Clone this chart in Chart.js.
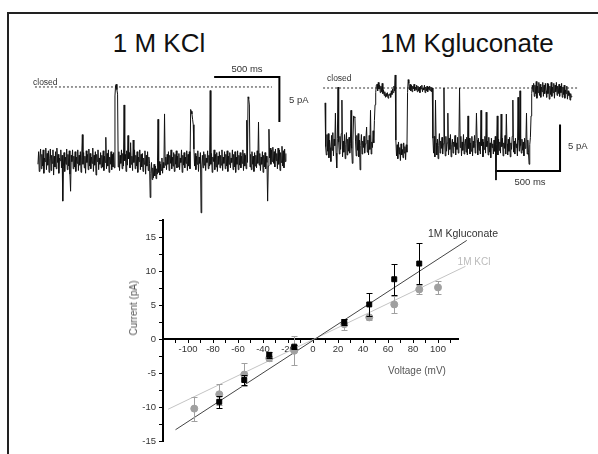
<!DOCTYPE html>
<html>
<head>
<meta charset="utf-8">
<script src="https://cdn.jsdelivr.net/npm/chart.js@4.4.0/dist/chart.umd.min.js"></script>
<style>
  body { margin: 0; background: #fff; width: 598px; height: 454px; overflow: hidden; position: relative;
         font-family: "Liberation Sans", Arial, sans-serif; }
  canvas { position: absolute; }
  .txt { position: absolute; white-space: nowrap; line-height: 1; transform: translate(-50%, -50%); }
  .left { transform: translate(0, -50%); }
  #frame { position: absolute; left: 7px; top: 12px; width: 620px; height: 470px;
           border-left: 2px solid #222; border-top: 2px solid #222; }
</style>
</head>
<body>
<div id="frame"></div>
<canvas id="kclTrace" width="270" height="160" style="left:30px;top:60px"></canvas>
<canvas id="gluTrace" width="270" height="160" style="left:315px;top:60px"></canvas>
<canvas id="ivChart" width="348" height="245" style="left:122px;top:205px"></canvas>

<div class="txt" style="left:159px;top:43px;font-size:26px;color:#111">1 M KCl</div>
<div class="txt" style="left:467px;top:43px;font-size:26px;color:#111">1M Kgluconate</div>
<div class="txt left" style="left:33px;top:82px;font-size:8.5px;color:#333">closed</div>
<div class="txt left" style="left:327px;top:78px;font-size:8.5px;color:#333">closed</div>
<div class="txt" style="left:247px;top:69px;font-size:9.5px;color:#333">500 ms</div>
<div class="txt left" style="left:289px;top:100px;font-size:9.5px;color:#333">5 pA</div>
<div class="txt" style="left:530px;top:182px;font-size:9.5px;color:#333">500 ms</div>
<div class="txt left" style="left:568px;top:146px;font-size:9.5px;color:#333">5 pA</div>
<div class="txt" style="left:417px;top:371px;font-size:10px;color:#555">Voltage (mV)</div>
<div class="txt" style="left:134px;top:308px;font-size:10px;color:#555;transform:translate(-50%,-50%) rotate(-90deg)">Current (pA)</div>
<div class="txt" style="left:463px;top:233px;font-size:10.5px;color:#333">1M Kgluconate</div>
<div class="txt" style="left:474px;top:262px;font-size:10px;color:#bbb">1M KCl</div>

<script>
// single channel recordings, one sample every 5 ms, current in pA (closed = 0)
const sampleMs = 5;
const kclTrace = [
  -8.6,-7.2,-9.4,-7.8,-6.9,-9.1,-7.5,-8.8,-7.0,-9.6,-7.9,-8.3,-6.8,-9.2,-7.4,-8.7,-7.1,-9.5,-8.0,-6.9,
  -9.3,-7.6,-8.5,-7.0,-9.8,-7.7,-8.9,-7.2,-9.1,-6.8,-8.4,-7.5,-9.6,-7.9,-8.2,-7.0,-9.0,-7.6,-12.7,-8.8,
  -7.3,-9.4,-7.8,-8.6,-6.9,-9.2,-7.5,-8.8,-7.1,-9.7,-11.6,-7.6,-8.3,-7.0,-9.1,-7.7,-8.9,-7.2,-9.4,-7.8,
  -8.5,-7.0,-9.3,-7.6,-8.7,-7.2,-9.5,-7.9,-5.3,-8.6,-7.3,-9.0,-7.7,-9.6,-7.1,-8.4,-7.5,-9.2,-6.9,-8.8,
  -7.4,-9.1,-7.8,-8.5,-6.8,-9.4,-7.6,-8.7,-7.2,-9.8,-7.5,-8.3,-7.0,-9.2,-7.9,-8.6,-7.3,-9.0,-7.6,-8.9,
  -7.1,-9.3,-7.7,-8.4,-5.6,-9.1,-7.4,-8.8,-7.0,-9.5,-7.8,-8.6,-7.2,-9.2,-7.5,-8.9,-7.3,-9.0,-1.0,0.2,
  0.3,-0.3,-0.8,-8.9,-7.2,-9.3,-7.6,-8.5,-7.0,-9.1,-7.4,-8.8,-2.0,-8.2,-7.5,-9.4,-7.1,-8.7,-5.4,-8.0,
  -7.3,-9.0,-6.2,-8.6,-7.7,-9.3,-5.9,-8.4,-7.0,-9.1,-7.6,-8.8,-7.2,-9.5,-7.8,-8.3,-7.0,-9.2,-7.5,-8.9,
  -7.4,-9.4,-7.9,-8.6,-7.1,-9.7,-7.6,-8.8,-7.2,-9.3,-7.8,-8.5,-12.3,-9.6,-8.4,-10.3,-9.0,-10.1,-8.6,-9.9,
  -8.8,-10.2,-9.1,-9.7,-3.6,-9.5,-8.3,-9.8,-8.6,-9.3,-7.9,-9.6,-8.4,-9.0,-3.0,-8.7,-7.8,-9.2,-7.5,-8.6,
  -7.2,-9.3,-7.6,-8.5,-7.0,-9.1,-7.8,-8.8,-7.3,-9.4,-7.5,-8.6,-7.1,-9.0,-7.7,-8.9,-7.4,-9.2,-7.9,-8.4,
  -7.0,-9.5,-7.6,-8.7,-7.3,-9.0,-7.8,-8.5,-7.1,-9.3,-7.5,-8.8,-7.2,-9.1,-2.5,-2.7,-3.0,-3.6,-4.2,-6.9,
  -8.8,-7.4,-9.2,-7.7,-8.6,-7.1,-9.4,-7.8,-8.5,-7.3,-14.0,-8.9,-7.6,-9.0,-7.2,-8.7,-7.5,-9.3,-7.9,-8.4,
  -7.1,-9.1,-7.6,-8.8,-0.4,-8.6,-7.4,-9.5,-7.8,-8.3,-7.0,-9.2,-7.5,-8.9,-7.3,-9.4,-7.7,-8.6,-7.2,-9.0,
  -7.6,-8.7,-7.0,-9.3,-7.8,-8.5,-7.2,-9.1,-7.5,-8.8,-7.1,-9.4,-7.7,-8.6,-7.3,-9.0,-7.9,-8.4,-7.0,-9.2,
  -7.5,-8.9,-7.2,-9.5,-7.8,-8.6,-7.1,-9.2,-7.6,-8.7,-7.3,-9.0,-7.7,-8.5,-7.0,-9.3,-7.4,-8.8,-7.6,-9.1,
  -3.7,-8.4,-1.1,-1.3,-2.0,-8.9,-7.5,-9.2,-7.2,-8.6,-7.7,-9.4,-7.3,-8.8,-7.6,-9.0,-7.1,-8.5,-3.9,-8.7,
  -7.4,-9.3,-7.8,-8.6,-7.2,-9.5,-7.6,-8.9,-7.3,-9.1,-7.7,-8.4,-12.7,-8.8,-4.7,-7.9,-6.8,-8.6,-7.0,-8.3,
  -6.7,-8.5,-7.2,-8.9,-6.9,-8.2,-7.4,-9.1,-6.8,-8.6,-7.0,-9.3,-7.3,-8.4,-6.6,-8.8,-7.1,-9.0,-6.9,-8.3,
  -7.4
];
const gluTrace = [
  -1.6,-6.3,-7.2,-5.0,-6.8,-4.9,-7.5,-5.6,-6.4,-7.9,-5.1,-6.7,-4.8,-7.3,-5.5,-6.2,-2.7,-7.0,-8.6,-5.4,
  0.1,-5.8,-7.1,-5.2,-6.6,-4.9,-1.3,-7.4,-5.7,-6.9,-5.0,-7.6,-6.1,-4.8,-7.2,-5.5,-6.8,-5.3,-7.0,-6.0,
  -2.4,-6.5,-8.1,-5.6,-3.0,-3.1,-3.2,-5.8,-7.3,-5.1,-6.7,-4.9,-7.4,-5.6,-8.8,-6.2,-5.0,-7.1,-5.7,-6.4,
  -5.2,-7.0,-6.0,-5.4,-4.2,-6.9,-5.6,-7.2,-5.1,-6.6,-2.4,-7.1,-5.8,-6.4,-4.6,-5.9,-3.5,-1.8,-0.5,0.3,
  0.4,-0.3,0.6,-0.1,0.3,-0.5,0.2,-0.4,0.5,-0.6,-0.2,-0.8,-0.4,-1.0,-0.6,-0.9,-0.5,-1.1,-0.7,-0.8,
  -0.6,-1.0,-0.3,-0.7,-0.1,-0.5,0.2,-0.3,1.4,-5.6,-7.3,-6.1,-7.6,-5.8,-7.1,-6.4,-7.8,-6.0,-7.2,-6.6,
  -7.5,-5.9,-7.0,-6.3,-7.7,-6.1,-6.9,-0.5,0.9,0.5,-0.2,0.4,-0.3,0.3,-0.4,0.2,-0.1,0.4,-0.3,0.1,
  -0.2,0.3,-0.4,0.2,-0.3,0.1,-0.5,0.2,-0.1,0.3,-0.4,0.0,-0.2,0.3,-0.5,0.1,-0.3,0.2,-0.4,0.1,
  -0.2,0.2,-0.3,0.1,-0.4,0.0,-5.4,-7.0,-5.2,-7.4,-1.3,-5.9,-7.2,-5.5,-7.6,-6.2,-4.9,-7.0,-5.7,-6.5,
  -5.3,-7.1,-6.0,0.0,-5.6,-7.3,-5.2,-6.8,-5.9,-2.7,-7.2,-5.4,-6.6,-5.0,-7.4,-6.1,-5.5,-7.0,-5.8,-6.3,
  -5.1,-7.2,-5.9,-6.6,-5.3,-7.0,-5.7,0.0,-6.4,-5.2,-7.3,-5.8,-6.7,-5.0,-7.1,-6.0,-5.5,-6.9,-5.3,-7.2,
  -3.0,-6.5,-5.4,-7.1,-5.9,-6.8,-5.2,-7.3,-5.7,-6.4,-5.1,-7.0,-6.0,-2.7,-5.6,-7.2,-5.4,-6.7,-5.8,-7.1,
  -2.4,-6.2,-5.5,-7.4,-5.8,-6.6,-5.2,-7.0,-2.6,-6.3,-5.7,-7.2,-5.3,-6.9,-5.9,-7.5,-5.4,-6.4,-6.0,-7.1,
  -5.6,-6.8,-5.2,-9.9,-6.1,-3.0,-7.2,-5.5,-6.7,-5.8,-7.0,-2.8,-6.3,-5.4,-7.3,-5.9,-6.5,-5.1,-7.1,-2.8,
  -6.0,-7.2,-5.5,-6.8,-5.3,-7.4,-5.9,-6.6,-5.2,-1.3,-6.9,-5.7,-7.1,-5.4,-6.4,-6.0,-7.3,-1.0,-5.6,-6.8,
  -0.3,-6.2,-7.0,-5.5,-6.7,-5.8,-7.3,-5.4,-6.5,-5.9,-2.7,-7.1,-5.6,-6.9,-8.2,-6.1,-5.3,-3.0,-0.6,0.3,
  -0.4,0.5,-0.9,0.3,-0.6,0.7,-1.1,0.2,-0.5,0.6,-0.8,0.4,-1.0,0.1,-0.4,0.6,-0.9,0.3,-0.6,0.5,
  -0.3,-1.0,0.5,-0.6,0.4,-1.2,0.2,-0.7,0.6,-0.9,0.1,-0.5,0.5,-1.1,0.3,-0.4,0.6,-0.8,0.2,-0.6,
  0.4,-0.9,0.2,-0.5,0.5,-1.0,0.1,-0.7,0.3,-1.1,-0.2,-0.6,0.2,-1.2,-0.3,-0.8,-0.5,-1.3,-0.6,-1.0,
  -0.9
];
const scaleBarMs = 500;
const scaleBarPa = 5;

// I-V relation, mean +/- error
const gluVoltage = [-75, -55, -35, -15, 25, 45, 65, 85];
const gluCurrent = [-9.2, -6.0, -2.3, -1.1, 2.5, 5.1, 8.8, 11.1];
const gluError   = [0.9, 0.8, 0.4, 0.3, 0.4, 1.7, 2.3, 3.0];
const kclVoltage = [-95, -75, -55, -35, -15, 25, 45, 65, 85, 100];
const kclCurrent = [-10.2, -8.1, -5.2, -2.8, -1.7, 2.2, 3.2, 5.1, 7.3, 7.6];
const kclError   = [1.75, 1.5, 1.7, 0.4, 2.1, 0.8, 0.4, 1.3, 0.7, 1.0];
const gluFit = [{ x: -110, y: -13.3 }, { x: 123, y: 14.5 }];
const kclFit = [{ x: -116, y: -10.3 }, { x: 122, y: 10.7 }];

Chart.defaults.font.family = '"Liberation Sans", Arial, sans-serif';

function traceChart(id, values, view, closedSpan, bar) {
  const pts = values.map((v, i) => ({ x: i * sampleMs, y: v }));
  return new Chart(document.getElementById(id), {
    type: 'line',
    data: {
      datasets: [
        { data: pts, borderColor: '#111', borderWidth: 1 },
        { data: closedSpan.map(t => ({ x: t, y: 0 })), borderColor: '#333', borderWidth: 1, borderDash: [2, 2] },
        { data: bar, borderColor: '#000', borderWidth: 2 }
      ]
    },
    options: {
      animation: false, responsive: false, events: [],
      layout: { padding: 0 },
      elements: { point: { radius: 0 }, line: { tension: 0 } },
      plugins: { legend: { display: false }, tooltip: { enabled: false } },
      scales: {
        x: { type: 'linear', display: false, min: view.x0, max: view.x1 },
        y: { type: 'linear', display: false, min: view.y0, max: view.y1 }
      }
    }
  });
}

// left: bar hangs from above the trace, right: bar sits below it
const kclBarT = 1350, kclBarTop = 1.1;
traceChart('kclTrace', kclTrace, { x0: -61, x1: 2008, y0: -14.8, y1: 3.0 }, [-23, 1793], [
  { x: kclBarT, y: kclBarTop },
  { x: kclBarT + scaleBarMs, y: kclBarTop },
  { x: kclBarT + scaleBarMs, y: kclBarTop - scaleBarPa }
]);
const gluBarT = 1308, gluBarBottom = -8.92;
traceChart('gluTrace', gluTrace, { x0: -77, x1: 2000, y0: -14.19, y1: 3.01 }, [-15, 1946], [
  { x: gluBarT, y: gluBarBottom },
  { x: gluBarT + scaleBarMs, y: gluBarBottom },
  { x: gluBarT + scaleBarMs, y: gluBarBottom + scaleBarPa }
]);

const errorBars = {
  id: 'errorBars',
  beforeDatasetDraw(chart, args) {
    const ds = chart.data.datasets[args.index];
    if (!ds.errors) return;
    const { ctx } = chart;
    const x = chart.scales.x, y = chart.scales.y;
    ctx.save();
    ctx.strokeStyle = ds.borderColor;
    ctx.lineWidth = 1;
    ds.data.forEach((p, i) => {
      const px = Math.round(x.getPixelForValue(p.x)) + 0.5;
      const top = Math.round(y.getPixelForValue(p.y + ds.errors[i])) + 0.5;
      const bot = Math.round(y.getPixelForValue(p.y - ds.errors[i])) + 0.5;
      ctx.beginPath();
      ctx.moveTo(px, top); ctx.lineTo(px, bot);
      ctx.moveTo(px - 3, top); ctx.lineTo(px + 3, top);
      ctx.moveTo(px - 3, bot); ctx.lineTo(px + 3, bot);
      ctx.stroke();
    });
    ctx.restore();
  }
};

const toPoints = (xs, ys) => xs.map((v, i) => ({ x: v, y: ys[i] }));

new Chart(document.getElementById('ivChart'), {
  type: 'scatter',
  data: {
    datasets: [
      { label: '1M Kgluconate', data: toPoints(gluVoltage, gluCurrent), errors: gluError,
        pointStyle: 'rect', pointRadius: 3.5, backgroundColor: '#000', borderColor: '#000', order: 0 },
      { label: '1M KCl', data: toPoints(kclVoltage, kclCurrent), errors: kclError,
        pointStyle: 'circle', pointRadius: 3.5, backgroundColor: '#a0a0a0', borderColor: '#a0a0a0', order: 1 },
      { data: gluFit, showLine: true, pointRadius: 0, borderColor: '#444', borderWidth: 1, clip: false, order: 2 },
      { data: kclFit, showLine: true, pointRadius: 0, borderColor: '#c4c4c4', borderWidth: 1, clip: false, order: 3 }
    ]
  },
  options: {
    animation: false, responsive: false, events: [],
    layout: { padding: { left: 0, top: 15, right: 12, bottom: 7 } },
    plugins: { legend: { display: false }, tooltip: { enabled: false } },
    scales: {
      x: {
        type: 'linear', min: -120, max: 116, position: { y: 0 },
        border: { display: true, color: '#000', width: 2 },
        grid: { drawOnChartArea: false, drawTicks: true, tickLength: 3, tickColor: '#000' },
        ticks: {
          stepSize: 10, includeBounds: false, autoSkip: false, maxRotation: 0, padding: 2,
          color: '#333', font: { size: 9.5 },
          callback: v => (v % 20 === 0 && Math.abs(v) <= 100) ? String(v) : ''
        }
      },
      y: {
        type: 'linear', min: -15, max: 17.5, position: 'left',
        afterFit: s => { s.width = 41; },
        border: { display: true, color: '#000', width: 2 },
        grid: { drawOnChartArea: false, drawTicks: true, tickLength: 4, tickColor: '#000' },
        ticks: {
          stepSize: 2.5, includeBounds: false, autoSkip: false, padding: 3,
          color: '#333', font: { size: 9.5 },
          callback: v => Math.abs(v % 5) < 1e-6 ? String(v) : ''
        }
      }
    }
  },
  plugins: [errorBars]
});
</script>
</body>
</html>
